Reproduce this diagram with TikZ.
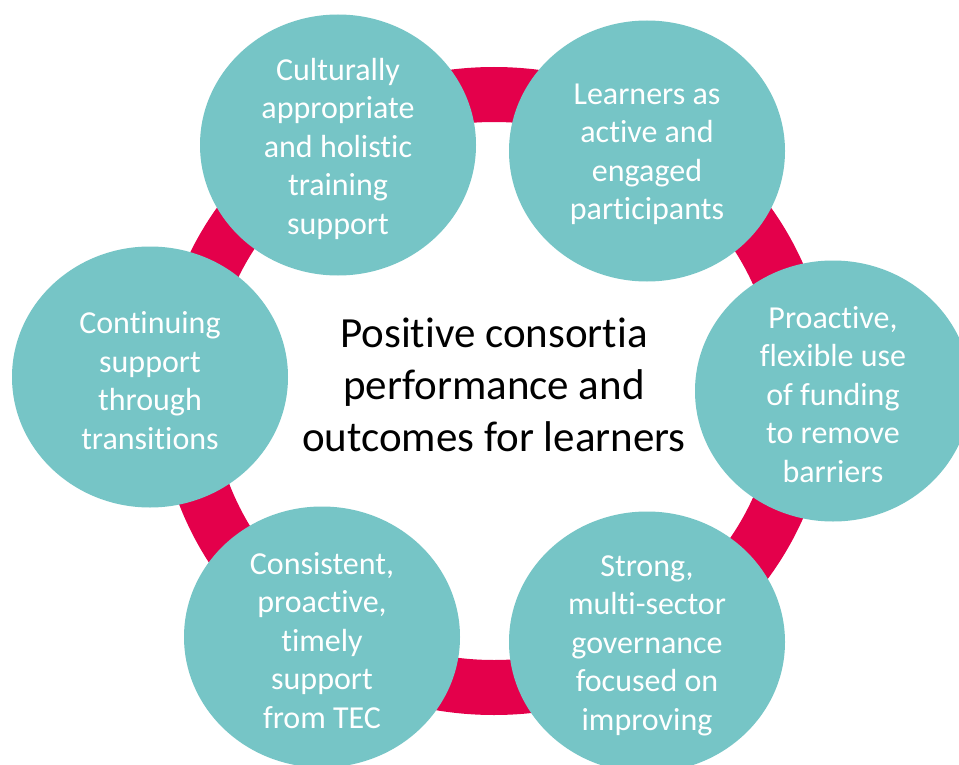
\documentclass[tikz,border=0pt]{standalone}
\usepackage{fontspec}
\setmainfont{Carlito}[Ligatures={NoCommon}]
\usetikzlibrary{shapes.geometric}
\definecolor{ringred}{RGB}{228,0,75}
\definecolor{bubbleteal}{RGB}{118,197,198}
\tikzset{
  bubble/.style={ellipse, fill=bubbleteal, draw=none, minimum width=276pt, minimum height=261pt, inner sep=0pt},
  btext/.style={text=white, align=center, inner sep=0pt, yshift=-3.5pt, font=\fontsize{32}{38.5}\selectfont},
  ctext/.style={text=black, align=center, inner sep=0pt, font=\fontsize{43}{52}\selectfont}
}
\begin{document}
\begin{tikzpicture}[x=1pt,y=-1pt]
\useasboundingbox (0,0) rectangle (959,765);
\clip (0,0) rectangle (959,765);
\fill[white] (0,0) rectangle (959,765);
\coordinate (o) at (494,391);
\fill[ringred, even odd rule] (o) ellipse [x radius=336pt, y radius=324pt]
  (o) ellipse [x radius=282pt, y radius=269pt];
\node[bubble] (c1) at (338,145) {};
\node[bubble] (c2) at (647,151) {};
\node[bubble] (c3) at (833,391) {};
\node[bubble] (c4) at (647,642) {};
\node[bubble] (c5) at (322,637) {};
\node[bubble] (c6) at (150,377) {};
\node[btext] (t1) at (c1) {Culturally\\appropriate\\and holistic\\training\\support};
\node[btext] (t2) at (c2) {Learners as\\active and\\engaged\\participants};
\node[btext] (t3) at (c3) {Proactive,\\flexible use\\of funding\\to remove\\barriers};
\node[btext] (t4) at (c4) {Strong,\\multi-sector\\governance\\focused on\\improving};
\node[btext] (t5) at (c5) {Consistent,\\proactive,\\timely\\support\\from TEC};
\node[btext] (t6) at (c6) {Continuing\\support\\through\\transitions};
\node[ctext] (ct) at (494,385) {Positive consortia\\performance and\\outcomes for learners};
\end{tikzpicture}
\end{document}
